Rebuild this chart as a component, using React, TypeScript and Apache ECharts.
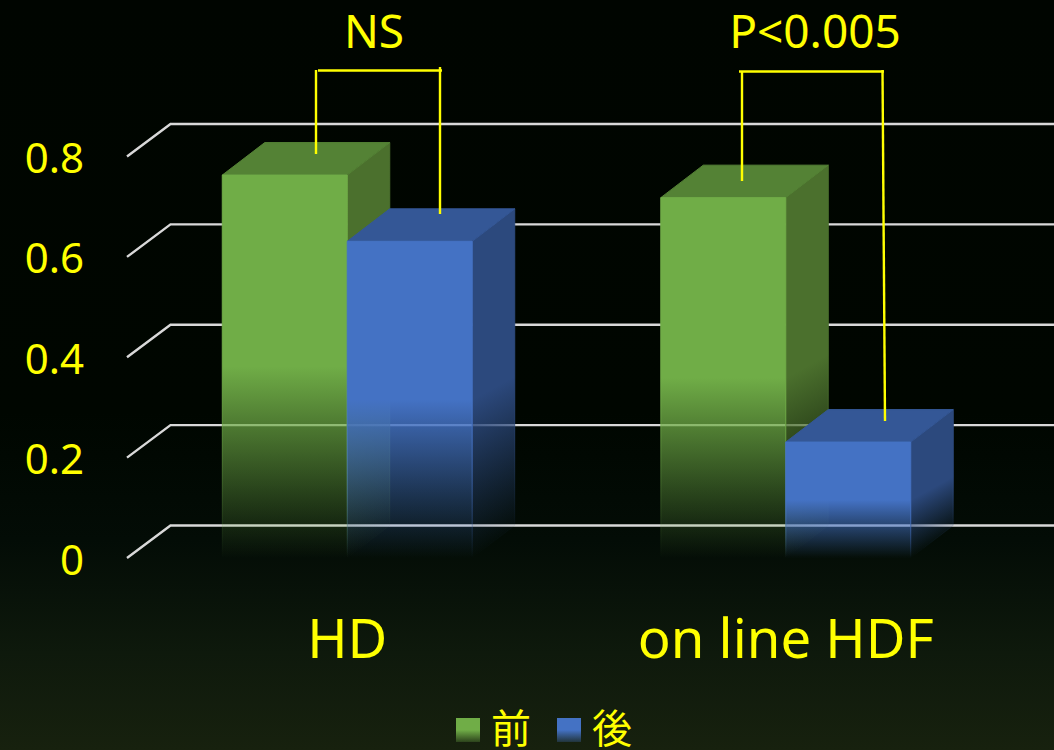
import React, { useEffect, useRef } from "react";
import * as echarts from "echarts";

const categories = ["HD", "on line HDF"];
const beforeValues = [0.763, 0.718];
const afterValues = [0.631, 0.231];
const yTicks = [0, 0.2, 0.4, 0.6, 0.8];
const seriesNames = ["前", "後"];
const significance = ["NS", "P<0.005"];

const YELLOW = "#ffff00";
const LABEL_FONT = "'Noto Sans', 'Open Sans', sans-serif";
const DEPTH_X = 42.5;
const DEPTH_Y = 32.5;
const BAR_RATIO = 0.285;
const SIDE_TILT = 0.55;

type Rgb = [number, number, number];
const GREEN = { front: [112, 173, 71] as Rgb, top: [84, 130, 53] as Rgb, side: [75, 112, 45] as Rgb };
const BLUE = { front: [68, 114, 196] as Rgb, top: [52, 87, 150] as Rgb, side: [44, 73, 125] as Rgb };

const rgba = (c: Rgb, a: number) => `rgba(${c[0]},${c[1]},${c[2]},${a})`;

// Opaque for the upper half of a face, then fading out to nothing at its foot.
const fade = (c: Rgb, x0: number, y0: number, x1: number, y1: number) =>
  new echarts.graphic.LinearGradient(
    x0, y0, x1, y1,
    [
      { offset: 0, color: rgba(c, 1) },
      { offset: 1, color: rgba(c, 0) },
    ],
    true,
  );

const swatch = (c: Rgb) =>
  new echarts.graphic.LinearGradient(0, 0, 0, 1, [
    { offset: 0, color: rgba(c, 1) },
    { offset: 0.5, color: rgba(c, 1) },
    { offset: 1, color: rgba(c, 0.25) },
  ]);

// One 3D block: side wall, lid and front face, shifted left or right of the category centre.
const blockRenderer = (palette: typeof GREEN, side: -1 | 1) => (_params: any, api: any) => {
  const cat = api.value(0);
  const val = api.value(1);
  const [cx, top] = api.coord([cat, val]);
  const [, bottom] = api.coord([cat, 0]);
  const w = api.size([1, 0])[0] * BAR_RATIO;
  const l = side < 0 ? cx - w : cx;
  const r = l + w;
  const mid = (top + bottom) / 2;

  // The side wall's fade leans towards the receding edge, darkening its far lower corner.
  const k = (bottom - mid) / (1 + SIDE_TILT * SIDE_TILT);
  const sideFill = fade(palette.side, r, mid, r + SIDE_TILT * k, mid + k);
  const frontFill = fade(palette.front, l, mid, l, bottom);

  return {
    type: "group",
    children: [
      {
        type: "polygon",
        shape: {
          points: [
            [r, top],
            [r + DEPTH_X, top - DEPTH_Y],
            [r + DEPTH_X, bottom - DEPTH_Y],
            [r, bottom],
          ],
        },
        style: { fill: sideFill, stroke: sideFill, lineWidth: 1 },
      },
      {
        type: "polygon",
        shape: {
          points: [
            [l, top],
            [l + DEPTH_X, top - DEPTH_Y],
            [r + DEPTH_X, top - DEPTH_Y],
            [r, top],
          ],
        },
        style: { fill: rgba(palette.top, 1), stroke: rgba(palette.top, 1), lineWidth: 1 },
      },
      {
        type: "rect",
        shape: { x: l, y: top, width: w, height: bottom - top },
        style: { fill: frontFill, stroke: frontFill, lineWidth: 1 },
      },
    ],
  };
};

// Gridline: a short run up the side wall, then along the back wall to the page edge.
const wallLine = (params: any, api: any) => {
  const cs = params.coordSys;
  const y = api.coord([0, api.value(0)])[1];
  const x0 = cs.x - 1;
  const xb = cs.x + DEPTH_X;
  return {
    type: "polyline",
    shape: {
      points: [
        [x0, y],
        [xb, y - DEPTH_Y],
        [cs.x + cs.width + DEPTH_X + 7, y - DEPTH_Y],
      ],
    },
    style: { stroke: "#d9d9d9", lineWidth: 2.4, fill: "none" },
  };
};

const seg = (x1: number, y1: number, x2: number, y2: number) => ({
  type: "line",
  z: 20,
  shape: { x1, y1, x2, y2 },
  style: { stroke: YELLOW, lineWidth: 2.4 },
});

const note = (text: string, x: number, y: number) => ({
  type: "text",
  z: 20,
  x,
  y,
  style: {
    text,
    fill: YELLOW,
    font: `46px ${LABEL_FONT}`,
    lineHeight: 46,
    align: "center",
    verticalAlign: "middle",
  },
});

export default function App() {
  const ref = useRef<HTMLDivElement>(null);

  useEffect(() => {
    const chart = echarts.init(ref.current!, undefined, { renderer: "svg" });
    chart.setOption({
      animation: false,
      backgroundColor: new echarts.graphic.LinearGradient(0, 0, 0, 1, [
        { offset: 0, color: "#000500" },
        { offset: 0.55, color: "#000600" },
        { offset: 0.72, color: "#030c06" },
        { offset: 0.87, color: "#0e190c" },
        { offset: 1, color: "#17210e" },
      ]),
      grid: { left: 128, top: 156.5, width: 877, height: 401.5 },
      legend: {
        left: 451,
        top: 701,
        icon: "rect",
        itemWidth: 24,
        itemHeight: 24,
        itemGap: 26,
        selectedMode: false,
        formatter: "{t|{name}}",
        textStyle: {
          color: YELLOW,
          rich: {
            t: {
              color: YELLOW,
              fontSize: 40,
              lineHeight: 40,
              fontFamily: "'Noto Sans CJK JP', sans-serif",
              padding: [0, 0, 8, 6],
            },
          },
        },
        data: [
          { name: seriesNames[0], itemStyle: { color: swatch(GREEN.front) } },
          { name: seriesNames[1], itemStyle: { color: swatch(BLUE.front) } },
        ],
      },
      xAxis: {
        type: "category",
        data: categories,
        axisLine: { show: false },
        axisTick: { show: false },
        axisLabel: { color: YELLOW, fontSize: 54.5, fontFamily: LABEL_FONT, margin: 51 },
      },
      yAxis: {
        type: "value",
        min: yTicks[0],
        max: yTicks[yTicks.length - 1],
        interval: 0.2,
        axisLine: { show: false },
        axisTick: { show: false },
        splitLine: { show: false },
        axisLabel: { color: YELLOW, fontSize: 42, fontFamily: LABEL_FONT, margin: 44, padding: [4, 0, 0, 0] },
      },
      series: [
        {
          type: "custom",
          data: yTicks.map((v) => [v]),
          encode: { y: 0 },
          renderItem: wallLine,
          silent: true,
          z: 1,
        },
        {
          type: "custom",
          name: seriesNames[0],
          data: beforeValues.map((v, i) => [i, v]),
          encode: { x: 0, y: 1 },
          renderItem: blockRenderer(GREEN, -1),
          itemStyle: { color: rgba(GREEN.front, 1) },
          z: 2,
        },
        {
          type: "custom",
          name: seriesNames[1],
          data: afterValues.map((v, i) => [i, v]),
          encode: { x: 0, y: 1 },
          renderItem: blockRenderer(BLUE, 1),
          itemStyle: { color: rgba(BLUE.front, 1) },
          z: 3,
        },
      ],
      graphic: [
        note(significance[0], 374, 30),
        note(significance[1], 815, 30),
        seg(316, 70, 316, 154),
        seg(318, 70.5, 442, 70.5),
        seg(440, 67, 440, 214),
        seg(739, 71.5, 884, 71.5),
        seg(742, 71, 742, 181),
        seg(882.5, 70, 885, 421),
      ],
    });
    return () => chart.dispose();
  }, []);

  return (
    <div
      ref={ref}
      style={{ position: "fixed", left: 0, top: 0, width: 1054, height: 750 }}
    />
  );
}
